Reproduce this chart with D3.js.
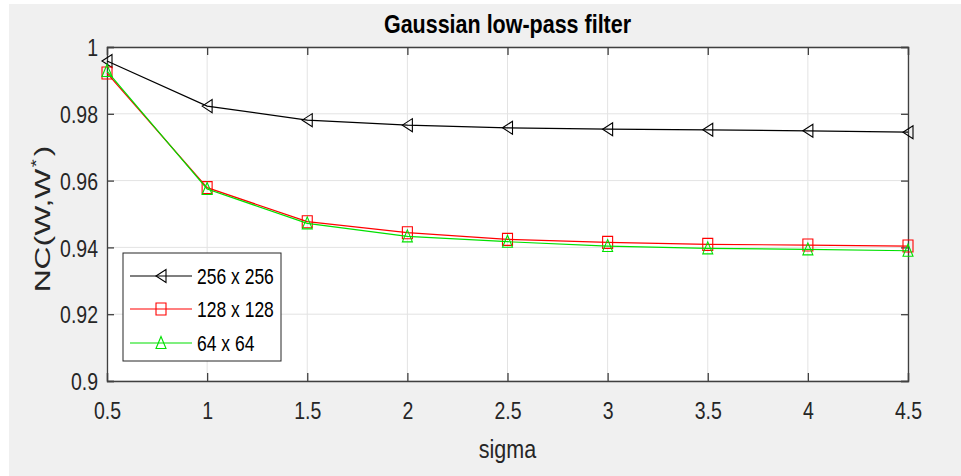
<!DOCTYPE html>
<html>
<head>
<meta charset="utf-8">
<script src="https://cdn.jsdelivr.net/npm/d3@7"></script>
<style>
  body { margin: 0; background: #ffffff; }
  svg { display: block; font-family: "Liberation Sans", Arial, sans-serif; }
</style>
</head>
<body>
<div id="chart"></div>
<script>
// values
var sigma = [0.5, 1, 1.5, 2, 2.5, 3, 3.5, 4, 4.5];
var nc256 = [0.9958, 0.9823, 0.9781, 0.9766, 0.9758, 0.9754, 0.9752, 0.9749, 0.9745];
var nc128 = [0.9922, 0.9579, 0.9477, 0.9444, 0.9424, 0.9415, 0.9409, 0.9407, 0.9404];
var nc64  = [0.9928, 0.9575, 0.9472, 0.9433, 0.9417, 0.9404, 0.9397, 0.9394, 0.9390];
var seriesNames = ["256 x 256", "128 x 128", "64 x 64"];
var xTicks = [0.5, 1, 1.5, 2, 2.5, 3, 3.5, 4, 4.5];
var yTicks = [0.9, 0.92, 0.94, 0.96, 0.98, 1];

var w = 961;
var h = 476;
var margin = { top: 47, right: 53, bottom: 95, left: 107 };
var width = w - margin.left - margin.right;
var height = h - margin.top - margin.bottom;
var stretch = 1.23; // the picture is taller than normal text, so stretch text vertically

var svgRoot = d3.select("#chart").append("svg")
    .attr("width", w)
    .attr("height", h);

// grey figure background, thin white strip at top/left like the screenshot
svgRoot.append("rect")
    .attr("x", 9).attr("y", 4)
    .attr("width", w - 9).attr("height", h - 4)
    .style("fill", "#f0f0f0");

var svg = svgRoot.append("g")
    .attr("transform", "translate(" + margin.left + "," + margin.top + ")");

var x = d3.scaleLinear().domain([0.5, 4.5]).range([0, width]);
var y = d3.scaleLinear().domain([0.9, 1]).range([height, 0]);

// white plot area
svg.append("rect")
    .attr("width", width)
    .attr("height", height)
    .style("fill", "#ffffff");

// grid
svg.append("g").selectAll("line")
    .data(xTicks)
    .enter().append("line")
    .attr("x1", d => x(d)).attr("x2", d => x(d))
    .attr("y1", 0).attr("y2", height)
    .style("stroke", "#e3e3e3").style("stroke-width", 1);

svg.append("g").selectAll("line")
    .data(yTicks)
    .enter().append("line")
    .attr("x1", 0).attr("x2", width)
    .attr("y1", d => y(d)).attr("y2", d => y(d))
    .style("stroke", "#e3e3e3").style("stroke-width", 1);

var axisColor = "#404040";

// axes, ticks pointing inwards
var xAxis = svg.append("g")
    .attr("transform", "translate(0," + height + ")")
    .call(d3.axisBottom(x).tickValues(xTicks).tickSize(-8).tickFormat(d3.format("")));
var xAxisTop = svg.append("g")
    .call(d3.axisTop(x).tickValues(xTicks).tickSize(-8).tickFormat(""));
var yAxis = svg.append("g")
    .call(d3.axisLeft(y).tickValues(yTicks).tickSize(-7).tickFormat(d3.format("")));
var yAxisRight = svg.append("g")
    .attr("transform", "translate(" + width + ",0)")
    .call(d3.axisRight(y).tickValues(yTicks).tickSize(-7).tickFormat(""));

[xAxis, xAxisTop, yAxis, yAxisRight].forEach(a => {
    a.select(".domain").style("stroke", axisColor).style("stroke-width", 1.3);
    a.selectAll(".tick line").style("stroke", axisColor).style("stroke-width", 1.3);
});

xAxis.selectAll(".tick text")
    .attr("y", null).attr("dy", null)
    .attr("transform", "translate(0,38) scale(1," + stretch + ")")
    .style("font-size", "19.5px")
    .style("fill", "#262626");

yAxis.selectAll(".tick text")
    .attr("x", null).attr("dy", null)
    .attr("transform", "translate(-9,8.6) scale(1," + stretch + ")")
    .style("font-size", "19.5px")
    .style("fill", "#262626");

// title + labels
svgRoot.append("text")
    .attr("transform", "translate(" + (margin.left + width / 2) + ",32.5) scale(1," + stretch + ")")
    .attr("text-anchor", "middle")
    .style("font-size", "21.5px")
    .style("font-weight", "bold")
    .style("fill", "#000000")
    .text("Gaussian low-pass filter");

svgRoot.append("text")
    .attr("transform", "translate(" + (margin.left + width / 2) + ",458) scale(1," + stretch + ")")
    .attr("text-anchor", "middle")
    .style("font-size", "21.5px")
    .style("fill", "#262626")
    .text("sigma");

// y label is drawn longer than the rest in the screenshot
var yLab = svgRoot.append("text")
    .attr("transform", "translate(50,219) scale(1,1.48) rotate(-90)")
    .attr("text-anchor", "middle")
    .style("font-size", "21.5px")
    .style("fill", "#262626");
yLab.append("tspan").text("NC(W,W");
yLab.append("tspan").attr("dy", -9).attr("dx", 1).style("font-size", "14px").text("*");
yLab.append("tspan").attr("dy", 9).attr("dx", 2).text(")");

// series
var series = [
    { name: seriesNames[0], values: nc256, color: "#000000", marker: "left" },
    { name: seriesNames[1], values: nc128, color: "#ff0000", marker: "square" },
    { name: seriesNames[2], values: nc64, color: "#00e000", marker: "up" }
];

function markerPath(type) {
    if (type === "left") return "M-5,0L5,-6.5L5,6.5Z";
    if (type === "up") return "M0,-6.5L5,5.5L-5,5.5Z";
    return "M-5,-6L5,-6L5,6L-5,6Z";
}

var line = d3.line()
    .x((d, i) => x(sigma[i]))
    .y(d => y(d));

series.forEach(s => {
    svg.append("path")
        .datum(s.values)
        .attr("d", line)
        .style("fill", "none")
        .style("stroke", s.color)
        .style("stroke-width", 1.2);

    svg.append("g").selectAll("path")
        .data(s.values)
        .enter().append("path")
        .attr("transform", (d, i) => "translate(" + x(sigma[i]) + "," + y(d) + ")")
        .attr("d", markerPath(s.marker))
        .style("fill", "none")
        .style("stroke", s.color)
        .style("stroke-width", 1.1);
});

// legend box in lower left
var legend = svgRoot.append("g").attr("transform", "translate(123,253)");
legend.append("rect")
    .attr("width", 158).attr("height", 108)
    .style("fill", "#ffffff")
    .style("stroke", "#262626")
    .style("stroke-width", 1);

var rowY = [23, 56, 90];
series.forEach((s, i) => {
    var row = legend.append("g").attr("transform", "translate(0," + rowY[i] + ")");
    row.append("line")
        .attr("x1", 7).attr("x2", 69)
        .style("stroke", s.color).style("stroke-width", 1.2);
    row.append("path")
        .attr("transform", "translate(38,0)")
        .attr("d", markerPath(s.marker))
        .style("fill", "none").style("stroke", s.color).style("stroke-width", 1.1);
    row.append("text")
        .attr("transform", "translate(74,7.7) scale(1," + stretch + ")")
        .style("font-size", "17.5px")
        .style("fill", "#000000")
        .text(s.name);
});
</script>
</body>
</html>
